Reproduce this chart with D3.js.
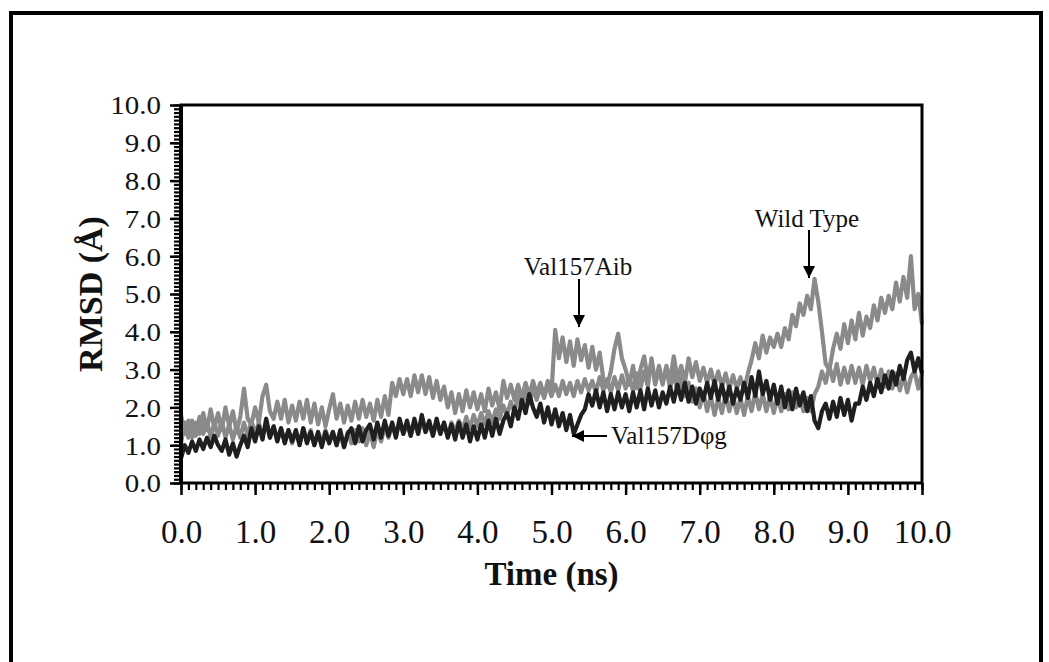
<!DOCTYPE html>
<html><head><meta charset="utf-8">
<script src="https://cdn.jsdelivr.net/npm/d3@7"></script>
<style>html,body{margin:0;padding:0;background:#fff;} svg{display:block;}</style>
</head><body>
<svg id="chart" width="1049" height="662"></svg>
<script>
// ---------- data ----------
const xTickValues = [0, 1, 2, 3, 4, 5, 6, 7, 8, 9, 10];
const xTickLabels = ["0.0","1.0","2.0","3.0","4.0","5.0","6.0","7.0","8.0","9.0","10.0"];
const yTickValues = [0, 1, 2, 3, 4, 5, 6, 7, 8, 9, 10];
const yTickLabels = ["0.0","1.0","2.0","3.0","4.0","5.0","6.0","7.0","8.0","9.0","10.0"];
const seriesNames = ["Wild Type", "Val157Aib", "Val157D\u03C6g"];
const timeStepNs = 0.05; // sampling interval of the trajectories (ns)

// RMSD (Å), one value every 0.05 ns from 0 to 10 ns
const wildType = [
 1.05,1.6,1.2,1.65,1.25,1.75,1.3,1.65,1.2,1.6,1.25,
 1.65,1.2,1.55,1.15,1.5,1.2,1.6,1.25,1.65,1.3,
 1.6,1.25,1.55,1.2,1.5,1.15,1.45,1.1,1.4,1.05,
 1.35,1.05,1.45,1.1,1.4,1.0,1.35,1.05,1.4,1.1,
 1.35,1.0,1.3,0.95,1.35,1.05,1.4,1.1,1.45,1.0,
 1.35,0.95,1.4,1.1,1.5,1.2,1.55,1.25,1.6,1.3,
 1.55,1.25,1.6,1.3,1.65,1.35,1.55,1.25,1.6,1.3,
 1.55,1.25,1.6,1.35,1.65,1.4,1.75,1.45,1.8,1.5,
 1.85,1.55,1.9,1.6,1.95,1.7,2.05,1.8,2.15,1.9,
 2.3,2.0,2.4,2.1,2.5,2.2,2.55,2.25,2.6,2.3,
 2.6,2.3,2.7,2.35,2.65,2.3,2.7,2.4,2.75,2.45,
 2.7,2.4,2.8,2.45,2.75,2.4,2.8,2.45,2.85,2.5,
 2.8,2.45,2.9,2.5,2.95,2.55,3.3,2.65,3.0,2.6,
 3.1,2.7,3.35,2.75,3.1,2.65,3.3,2.8,3.2,2.7,
 3.05,2.65,3.0,2.6,2.95,2.55,2.9,2.5,2.85,2.5,
 2.8,2.45,2.9,3.25,3.7,3.3,3.9,3.45,3.85,3.6,
 3.95,3.6,4.1,3.8,4.45,4.15,4.75,4.45,4.95,4.6,
 5.4,4.8,4.0,3.15,3.0,3.55,3.95,3.55,4.2,3.7,
 4.3,3.8,4.5,3.9,4.4,4.1,4.7,4.3,4.9,4.5,
 4.95,4.6,5.3,4.8,5.45,4.9,6.0,4.6,5.0,4.2
];
const val157Aib = [
 1.8,1.3,1.65,1.2,1.6,1.3,1.85,1.4,1.95,1.45,1.85,
 1.4,2.0,1.5,1.9,1.35,1.75,2.5,1.7,1.55,2.0,
 1.6,2.3,2.6,1.9,1.7,2.15,1.7,2.2,1.6,2.05,
 1.65,2.15,1.7,2.2,1.6,2.1,1.55,2.0,1.5,1.95,
 2.35,1.7,2.1,1.6,2.05,1.65,2.15,1.7,2.2,1.75,
 2.1,1.65,2.2,1.75,2.3,1.8,2.65,2.3,2.75,2.35,
 2.75,2.3,2.85,2.4,2.85,2.35,2.8,2.25,2.7,2.2,
 2.55,2.0,2.4,1.85,2.35,1.9,2.45,2.0,2.4,1.95,
 2.35,1.9,2.5,2.05,2.4,1.95,2.7,2.25,2.6,2.2,
 2.6,2.25,2.65,2.3,2.7,2.35,2.65,2.3,2.7,2.4,
 4.05,3.3,3.85,3.2,3.75,3.1,3.8,3.25,3.65,3.05,
 3.6,3.0,3.45,2.75,2.55,2.95,3.55,3.95,3.3,3.0,
 2.6,3.1,2.5,3.0,3.35,2.75,3.2,2.6,3.1,2.65,
 3.05,2.5,2.95,2.4,2.8,2.3,2.65,2.15,2.5,2.0,
 2.4,1.9,2.3,1.8,2.25,1.85,2.35,1.9,2.3,1.85,
 2.25,1.8,2.3,1.9,2.4,1.95,2.35,1.9,2.3,1.85,
 2.3,1.9,2.35,1.95,2.4,2.0,2.3,1.9,2.25,1.9,
 2.35,2.55,2.95,2.65,3.1,2.7,3.15,2.6,3.05,2.65,
 3.1,2.65,3.05,2.6,3.1,2.7,3.05,2.6,3.0,2.55,
 2.95,2.5,2.9,2.45,2.85,2.4,2.8,2.95,2.5,2.9
];
const val157Dphg = [
 0.65,1.0,0.8,1.1,0.85,1.15,0.9,1.2,0.95,1.25,1.0,
 0.85,1.15,0.75,1.05,0.7,1.0,1.25,0.95,1.45,1.1,
 1.5,1.15,1.7,1.2,1.5,1.1,1.45,1.05,1.4,1.1,
 1.4,1.0,1.45,1.05,1.35,1.0,1.35,0.95,1.35,1.05,
 1.35,1.0,1.4,0.95,1.3,1.45,1.05,1.5,1.1,1.4,
 1.55,1.15,1.6,1.2,1.65,1.25,1.6,1.2,1.7,1.3,
 1.65,1.25,1.7,1.3,1.8,1.35,1.65,1.25,1.7,1.3,
 1.6,1.2,1.55,1.15,1.6,1.2,1.55,1.1,1.5,1.15,
 1.55,1.2,1.65,1.25,1.7,1.3,1.65,1.85,1.5,2.0,
 1.7,2.2,1.85,2.35,2.0,1.75,2.1,1.6,2.0,1.55,
 1.95,1.5,1.85,1.4,1.8,1.3,1.55,1.8,1.95,2.35,
 2.05,2.45,2.0,2.4,1.9,2.35,1.95,2.4,2.0,2.35,
 1.9,2.4,2.0,2.45,1.95,2.5,2.05,2.45,2.0,2.4,
 2.1,2.55,2.15,2.6,2.2,2.65,2.15,2.55,2.1,2.5,
 2.2,2.65,2.25,2.7,2.2,2.6,2.15,2.55,2.1,2.5,
 2.2,2.65,2.25,2.8,2.3,2.95,2.35,2.7,2.2,2.6,
 2.1,2.55,2.0,2.45,1.95,2.5,2.05,2.4,1.9,2.3,
 1.65,1.45,1.9,2.1,1.7,2.15,1.75,2.25,1.8,2.2,
 1.65,2.1,2.1,2.55,2.2,2.65,2.3,2.75,2.4,2.85,
 2.5,2.95,2.6,3.1,2.75,3.25,3.45,2.95,3.3,2.9
];

// ---------- drawing ----------
const svg = d3.select("#chart");
const serif = "'Liberation Serif', 'Times New Roman', serif";
const M = {left: 181, right: 922, top: 105, bottom: 483};

// outer frame
svg.append("rect").attr("x", 11).attr("y", 13).attr("width", 1030).attr("height", 720)
  .attr("fill", "none").attr("stroke", "#000").attr("stroke-width", 4);

const x = d3.scaleLinear().domain([0, 10]).range([M.left, M.right]);
const y = d3.scaleLinear().domain([0, 10]).range([M.bottom, M.top]);

const line = d3.line().x((d, i) => x(i * timeStepNs)).y(d => y(d));

const series = [
  {name: seriesNames[1], values: val157Aib, color: "#8a8a8a"},
  {name: seriesNames[0], values: wildType, color: "#8a8a8a"},
  {name: seriesNames[2], values: val157Dphg, color: "#1f1f1f"}
];
svg.append("g").selectAll("path").data(series).join("path")
  .attr("d", d => line(d.values))
  .attr("fill", "none").attr("stroke", d => d.color)
  .attr("stroke-width", 4.2).attr("stroke-linejoin", "round");

// plot box
svg.append("rect").attr("x", M.left).attr("y", M.top)
  .attr("width", M.right - M.left).attr("height", M.bottom - M.top)
  .attr("fill", "none").attr("stroke", "#000").attr("stroke-width", 3);

// y axis minor + major
const yMinor = svg.append("g").attr("transform", `translate(${M.left},0)`)
  .call(d3.axisLeft(y).ticks(100).tickSize(7).tickFormat(""));
yMinor.select(".domain").remove();
yMinor.selectAll("line").attr("stroke", "#000").attr("stroke-width", 2.2);

const yMajor = svg.append("g").attr("transform", `translate(${M.left},0)`)
  .call(d3.axisLeft(y).tickValues(yTickValues).tickSize(11).tickPadding(9)
        .tickFormat((d, i) => yTickLabels[i]));
yMajor.select(".domain").attr("stroke", "#000").attr("stroke-width", 4)
  .attr("d", `M0,${M.bottom}V${M.top}`);
yMajor.selectAll("line").attr("stroke", "#000").attr("stroke-width", 2.5);
yMajor.selectAll("text").attr("font-family", serif).attr("font-size", 29)
  .attr("fill", "#111").attr("dy", "0.36em").attr("transform", "scale(1,0.85)");

// x axis minor + major
const xMinor = svg.append("g").attr("transform", `translate(0,${M.bottom})`)
  .call(d3.axisBottom(x).ticks(100).tickSize(7).tickFormat(""));
xMinor.select(".domain").remove();
xMinor.selectAll("line").attr("stroke", "#000").attr("stroke-width", 2.2);

const xMajor = svg.append("g").attr("transform", `translate(0,${M.bottom})`)
  .call(d3.axisBottom(x).tickValues(xTickValues).tickSize(12)
        .tickFormat((d, i) => xTickLabels[i]));
xMajor.select(".domain").remove();
xMajor.selectAll("line").attr("stroke", "#000").attr("stroke-width", 2.5);
xMajor.selectAll("text").attr("font-family", serif).attr("font-size", 33)
  .attr("fill", "#111").attr("y", 60).attr("dy", 0);

// axis titles
svg.append("text").attr("x", (M.left + M.right) / 2).attr("y", 585)
  .attr("text-anchor", "middle").attr("font-family", serif).attr("font-weight", "bold")
  .attr("font-size", 33).attr("fill", "#111").text("Time (ns)");
svg.append("text").attr("transform", `translate(102,${y(5)}) rotate(-90)`)
  .attr("text-anchor", "middle").attr("font-family", serif).attr("font-weight", "bold")
  .attr("font-size", 34).attr("fill", "#111").text("RMSD (\u00C5)");

// annotations
const defs = svg.append("defs");
defs.append("marker").attr("id", "ah").attr("viewBox", "0 0 12 12")
  .attr("refX", 12).attr("refY", 6).attr("markerWidth", 12).attr("markerHeight", 12)
  .attr("markerUnits", "userSpaceOnUse").attr("orient", "auto")
  .append("path").attr("d", "M0,0L12,6L0,12Z").attr("fill", "#000");

const notes = [
  {label: seriesNames[1], tx: 578, ty: 275, anchor: "middle", x1: 579, y1: 279, x2: 579, y2: 327},
  {label: seriesNames[0], tx: 807, ty: 227, anchor: "middle", x1: 809, y1: 230, x2: 809, y2: 278},
  {label: seriesNames[2], tx: 611, ty: 444, anchor: "start", x1: 607, y1: 436, x2: 572, y2: 436}
];
notes.forEach(n => {
  svg.append("line").attr("x1", n.x1).attr("y1", n.y1).attr("x2", n.x2).attr("y2", n.y2)
    .attr("stroke", "#000").attr("stroke-width", 2).attr("marker-end", "url(#ah)");
  svg.append("text").attr("x", n.tx).attr("y", n.ty).attr("text-anchor", n.anchor)
    .attr("font-family", serif).attr("font-size", 25).attr("fill", "#111").text(n.label);
});
</script>
</body></html>
